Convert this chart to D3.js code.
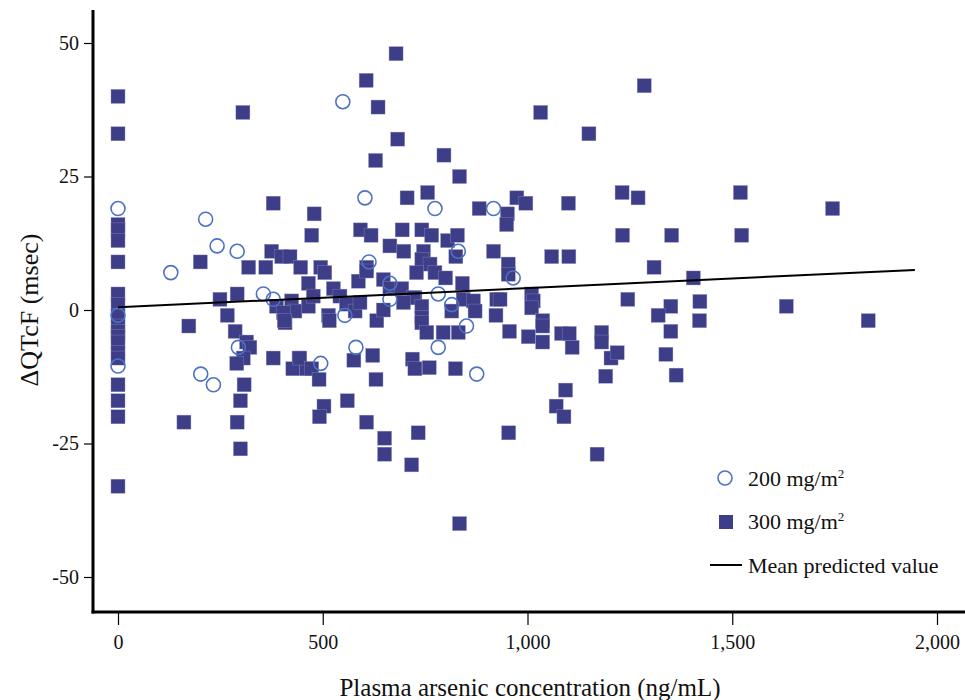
<!DOCTYPE html>
<html lang="en">
<head>
<meta charset="UTF-8">
<title>QTcF vs plasma arsenic</title>
<script src="https://d3js.org/d3.v7.min.js"></script>
<style>
  body { margin: 0; background: #fff; }
  text { font-family: "Liberation Serif", "Times New Roman", serif; fill: #111; }
</style>
</head>
<body>
<svg id="chart" width="965" height="700"></svg>
<script>
// ---- data ----
var xTicks = [0, 500, 1000, 1500, 2000];
var yTicks = [50, 25, 0, -25, -50];

// 200 mg/m2 group: [concentration, dQTcF]
var dose200 = [
  [0, 19], [0, -1], [0, -10.5], [214, 17], [129, 7], [242, 12], [291, 11],
  [355, 3], [379, 2], [294, -7], [202, -12], [233, -14], [549, 39], [603, 21],
  [774, 19], [917, 19], [831, 11], [613, 9], [965, 6], [664, 5], [554, -1],
  [664, 2], [782, 3], [815, 1], [851, -3], [782, -7], [581, -7], [495, -10],
  [876, -12]
];

// 300 mg/m2 group
var dose300 = [
  [0, 40], [0, 33], [0, 16], [0, 15], [0, 13], [0, 9], [0, 3], [0, 1], [0, -1],
  [0, -3], [0, -4], [0, -5], [0, -6], [0, -8], [0, -9], [0, -14], [0, -17],
  [0, -20], [0, -33],
  [305, 37], [201, 9], [379, 20], [319, 8], [361, 8], [375, 11], [400, 10],
  [420, 10], [446, 8], [479, 18], [473, 14], [249, 2], [291, 3], [267, -1],
  [387, 0.7], [424, 1.7], [432, -0.2], [404, -0.5], [408, -2.4], [465, 0.7],
  [173, -3], [161, -21], [286, -4], [314, -6], [322, -7], [306, -9], [290, -10],
  [379, -9], [442, -9], [427, -11], [461, -11], [308, -14], [299, -17],
  [291, -21], [299, -26], [406, -2],
  [679, 48], [606, 43], [635, 38], [683, 32], [629, 28], [796, 29], [834, 25],
  [706, 21], [756, 22], [882, 19], [974, 21], [996, 20], [951, 18], [949, 16],
  [592, 15], [618, 14], [694, 15], [742, 15], [766, 14], [805, 13], [829, 14],
  [664, 12], [698, 11], [825, 10], [917, 11], [746, 11], [742, 9.5], [762, 8.6],
  [607, 8], [495, 8], [505, 7], [465, 5], [477, 2.6], [729, 7], [774, 7],
  [800, 6], [953, 8.6], [953, 6.7], [841, 5], [648, 5.7], [664, 4], [693, 4],
  [526, 4], [542, 2.6], [558, 1.1], [579, -0.2], [587, 5.4], [607, 7.3],
  [591, 1.4], [514, -1], [725, 2.3], [721, 2.3], [697, 1.4], [742, 0.7],
  [742, -1.4], [815, -0.2], [843, 2], [868, 1.7], [872, -0.2], [925, 2],
  [923, -1], [516, -2], [632, -2], [648, 0], [742, -2.4], [754, -4.2],
  [794, -4.2], [831, -4.2], [956, -4], [576, -9.4], [622, -8.5], [630, -13],
  [719, -9.2], [725, -11], [760, -10.8], [824, -11], [444, -9], [473, -11],
  [491, -13], [503, -18], [492, -20], [560, -17], [607, -21], [651, -24],
  [651, -27], [733, -23], [717, -29], [834, -40], [954, -23],
  [1285, 42], [1032, 37], [1150, 33], [1100, 20], [1231, 22], [1270, 21],
  [1059, 10], [1101, 10], [1232, 14], [1352, 14], [1309, 8], [1405, 6],
  [1010, 3], [1014, 1.7], [1010, 0.4], [1245, 2], [1350, 0.7], [1319, -1],
  [1421, 1.6], [1420, -2], [933, 2], [1037, -2],
  [1002, -5], [1037, -3], [1037, -6], [1083, -4.4], [1102, -4.4], [1109, -7],
  [1181, -4.2], [1181, -6], [1204, -9], [1219, -8], [1191, -12.4], [1350, -4],
  [1338, -8.3], [1363, -12.2], [1093, -15], [1070, -18], [1089, -20],
  [1170, -27],
  [1520, 22], [1745, 19], [1523, 14], [1632, 0.7], [1832, -2]
];

// mean predicted value (linear fit), endpoints of the drawn line
var fitLine = [[0, 0.5], [1946, 7.5]];

var legendLabels = ["200 mg/m", "300 mg/m", "Mean predicted value"];

// ---- drawing ----
var svg = d3.select("#chart");
var squareColor = "#3d3d88";
var circleColor = "#4e72c2";

// x: 0 -> 118px, 2000 -> 937px ; y: 0 -> 309px, 25 units = 133.5px
var x = d3.scaleLinear().domain([0, 2000]).range([118, 937]);
var y = d3.scaleLinear().domain([-50, 50]).range([577, 43]);

var axisLeftX = 93, axisBottomY = 612;

// points: squares first, circles on top
svg.append("g").selectAll("rect")
  .data(dose300)
  .join("rect")
  .attr("x", d => x(d[0]) - 7)
  .attr("y", d => y(d[1]) - 7)
  .attr("width", 14)
  .attr("height", 14)
  .attr("fill", squareColor)
  .attr("stroke", "#8a8cc0")
  .attr("stroke-width", 0.4);

svg.append("g").selectAll("circle")
  .data(dose200)
  .join("circle")
  .attr("cx", d => x(d[0]))
  .attr("cy", d => y(d[1]))
  .attr("r", 7)
  .attr("fill", "none")
  .attr("stroke", circleColor)
  .attr("stroke-width", 1.6);

svg.append("path")
  .attr("d", d3.line().x(d => x(d[0])).y(d => y(d[1]))(fitLine))
  .attr("stroke", "#000")
  .attr("stroke-width", 2)
  .attr("fill", "none");

// axes
var xAxis = d3.axisBottom(x).tickValues(xTicks).tickSize(13).tickPadding(10)
  .tickFormat(d3.format(","));
var gx = svg.append("g").attr("transform", "translate(0," + axisBottomY + ")").call(xAxis);
gx.select(".domain").remove();
gx.selectAll("line").attr("stroke", "#000").attr("stroke-width", 1.2);
gx.selectAll("text").attr("font-size", 20).attr("dy", "0.71em")
  .style("font-family", "'Liberation Serif', serif").attr("fill", "#111");

var yAxis = d3.axisLeft(y).tickValues(yTicks).tickSize(9).tickPadding(5)
  .tickFormat(d => String(d));
var gy = svg.append("g").attr("transform", "translate(" + axisLeftX + ",0)").call(yAxis);
gy.select(".domain").remove();
gy.selectAll("line").attr("stroke", "#000").attr("stroke-width", 1.2);
gy.selectAll("text").attr("font-size", 20)
  .style("font-family", "'Liberation Serif', serif").attr("fill", "#111");

svg.append("line")
  .attr("x1", axisLeftX).attr("x2", axisLeftX)
  .attr("y1", 10).attr("y2", axisBottomY + 1.5)
  .attr("stroke", "#000").attr("stroke-width", 3);
svg.append("line")
  .attr("x1", axisLeftX - 1.5).attr("x2", 965)
  .attr("y1", axisBottomY).attr("y2", axisBottomY)
  .attr("stroke", "#000").attr("stroke-width", 3);

// axis titles
svg.append("text")
  .attr("x", 530).attr("y", 696)
  .attr("text-anchor", "middle")
  .attr("font-size", 25)
  .text("Plasma arsenic concentration (ng/mL)");

svg.append("text")
  .attr("transform", "translate(38,310) rotate(-90)")
  .attr("text-anchor", "middle")
  .attr("font-size", 26)
  .text("\u0394QTcF (msec)");

// legend
var lg = svg.append("g");
lg.append("circle").attr("cx", 725).attr("cy", 478).attr("r", 7)
  .attr("fill", "none").attr("stroke", circleColor).attr("stroke-width", 1.6);
lg.append("rect").attr("x", 719).attr("y", 515).attr("width", 14).attr("height", 14)
  .attr("fill", squareColor);
lg.append("line").attr("x1", 710).attr("x2", 742).attr("y1", 565).attr("y2", 565)
  .attr("stroke", "#000").attr("stroke-width", 2);

[486, 529, 573].forEach(function (yy, i) {
  var t = lg.append("text").attr("x", 748).attr("y", yy).attr("font-size", 22)
    .text(legendLabels[i]);
  if (i < 2) t.append("tspan").attr("dy", -8).attr("font-size", 13).text("2");
});
</script>
</body>
</html>
